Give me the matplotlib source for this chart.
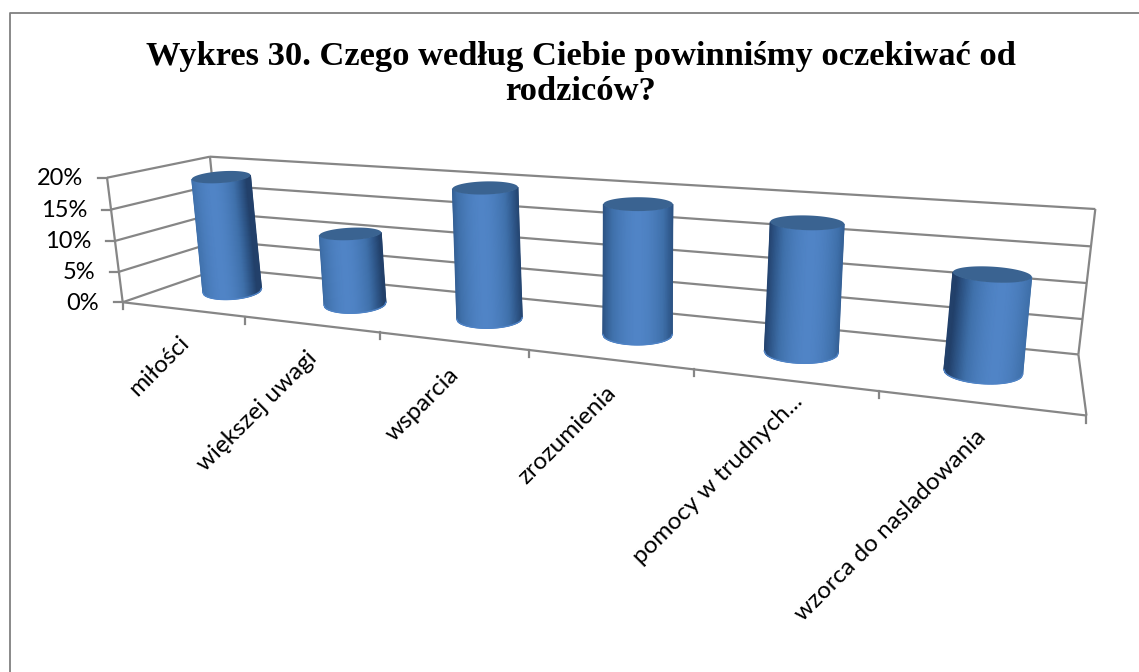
import numpy as np
import matplotlib
matplotlib.use('Agg')
import matplotlib.pyplot as plt
from matplotlib.colors import LinearSegmentedColormap

categories = ['miłości', 'większej uwagi', 'wsparcia', 'zrozumienia',
              'pomocy w trudnych...', 'wzorca do nasladowania']
values = [18.9, 11.3, 19.9, 19.0, 18.0, 13.0]
y_ticks = [0, 5, 10, 15, 20]
title = 'Wykres 30. Czego według Ciebie powinniśmy oczekiwać od\nrodziców?'

# kamera dopasowana do narożników wykresu: (kategoria, głębokość, wartość) -> piksel
world = np.array([(0, 0, 0), (6, 0, 0), (0, 1, 0), (6, 1, 0), (0, 0, 20), (0, 1, 20), (6, 1, 20),
                  (1, 0, 0), (2, 0, 0), (3, 0, 0), (4, 0, 0), (5, 0, 0),
                  (6, 1, 15), (6, 1, 10), (6, 1, 5)], float)
pixels = np.array([(123, 302), (1087, 414), (221, 268), (1078, 354), (107, 177), (210, 157), (1095, 209),
                   (245, 317), (380, 333), (529, 350), (694, 370), (878, 392),
                   (1091, 247), (1087, 283), (1083, 319)], float)
A = []
b = []
for (X, Y, Z), (u, v) in zip(world, pixels):
    A.append([X, Y, Z, 1, 0, 0, 0, 0, -u * X, -u * Y, -u * Z])
    A.append([0, 0, 0, 0, X, Y, Z, 1, -v * X, -v * Y, -v * Z])
    b += [u, v]
sol = np.linalg.lstsq(np.array(A), np.array(b), rcond=None)[0]
P = np.append(sol, 1).reshape(3, 4)


def proj(x, y, z):
    h = P @ np.array([x, y, z, 1.0])
    return h[:2] / h[2]


fig = plt.figure(figsize=(11.39, 6.72), dpi=100)
ax = fig.add_axes([0, 0, 1, 1])
ax.set_xlim(0, 1139)
ax.set_ylim(672, 0)
ax.axis('off')

grey = '#868686'
lw = 1.6


def line3d(p0, p1):
    pts = np.array([proj(*p0), proj(*p1)])
    ax.plot(pts[:, 0], pts[:, 1], color=grey, lw=lw, solid_capstyle='butt', zorder=1)


# ramka obszaru wykresu
ax.plot([10, 10, 1139], [672, 12.5, 12.5], color='#808080', lw=1.3, zorder=0)

# siatka
n = len(categories)
for t in y_ticks:
    line3d((0, 0, t), (0, 1, t))
    line3d((0, 1, t), (n, 1, t))
    pt = proj(0, 0, t)
    ax.plot([pt[0] - 9, pt[0]], [pt[1], pt[1]], color=grey, lw=lw, zorder=1)
    ax.text(pt[0] - 24, pt[1] + 1, f'{t}%', ha='right', va='center',
            fontsize=17, family='Lato', color='black')
line3d((0, 0, 0), (0, 0, 20))
line3d((0, 1, 0), (0, 1, 20))
line3d((n, 1, 0), (n, 1, 20))
line3d((0, 0, 0), (n, 0, 0))
line3d((n, 0, 0), (n, 1, 0))
for i in range(n + 1):
    pt = proj(i, 0, 0)
    ax.plot([pt[0], pt[0]], [pt[1], pt[1] + 7], color=grey, lw=lw, zorder=1)

# walce
shade = LinearSegmentedColormap.from_list('walec', [(0, '#22406a'), (0.25, '#2e5688'), (0.55, '#3f70aa'), (1, '#5084c6')])
depth = 0.5
u = np.linspace(-1, 1, 61)
theta = np.linspace(0, 2 * np.pi, 181)
for i, val in enumerate(values):
    base = proj(i + 0.5, depth, 0)
    top = proj(i + 0.5, depth, val)
    slot = proj(i + 1, depth, 0)[0] - proj(i, depth, 0)[0]
    a = 31 * (slot / 129) ** 0.6
    b_top = 0.2 * a
    b_base = 0.3 * a
    p = np.clip((top[0] - 639) / 400, -1, 1)
    tilt_top = (top[0] - 639) / 6000
    tilt_base = (base[0] - 639) / 6000
    arc = np.sqrt(1 - u ** 2)
    X = np.array([top[0] + a * u, base[0] + a * u])
    Y = np.array([top[1] + tilt_top * a * u + b_top * arc, base[1] + tilt_base * a * u + b_base * arc])
    c = np.clip(np.cos(u * 1.35 - p * 0.4), 0, 1)
    C = np.array([c, c])
    ax.pcolormesh(X, Y, C, cmap=shade, vmin=0, vmax=1, shading='gouraud', zorder=3)
    # jasna krawędź u dołu
    ax.plot(X[1], Y[1], color='#4f83c6', lw=1.0, zorder=3)
    # pokrywka
    lx = top[0] + a * np.cos(theta)
    ly = top[1] + tilt_top * a * np.cos(theta) + b_top * np.sin(theta)
    ax.fill(lx, ly, color='#3a6391', lw=0, zorder=4)

# etykiety kategorii
for i, name in enumerate(categories):
    pt = proj(i + 0.5, 0, 0)
    shift = 12 if name.endswith('...') else 0  # skrócona etykieta stoi bliżej osi
    ax.text(pt[0] + 3 + shift, pt[1] + 30 - shift, name, rotation=45, rotation_mode='anchor',
            ha='right', va='center', fontsize=17.5, family='Lato', color='black')

ax.text(581, 74, title, ha='center', va='center', fontsize=24.8, fontweight='bold',
        family='Liberation Serif', color='black', linespacing=1.18)

fig.savefig('out.png', dpi=100)
